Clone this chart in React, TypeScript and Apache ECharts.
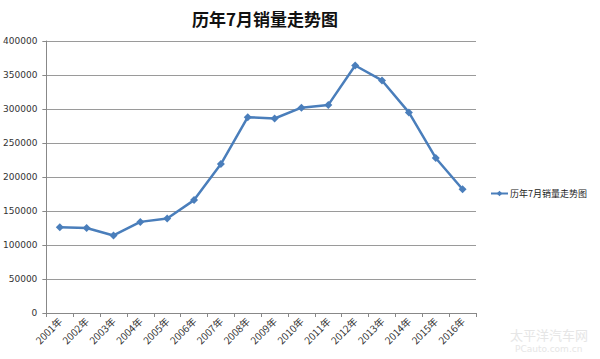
import React, { useEffect, useRef } from "react";
import * as echarts from "echarts";

const years = ["2001年","2002年","2003年","2004年","2005年","2006年","2007年","2008年","2009年","2010年","2011年","2012年","2013年","2014年","2015年","2016年"];
const sales = [126000,125000,114000,134000,139000,166000,219000,288000,286000,302000,306000,364000,342000,295000,228000,182000];
const seriesName = "历年7月销量走势图";
const titleText = "历年7月销量走势图";

export default function App() {
  const ref = useRef<HTMLDivElement>(null);
  useEffect(() => {
    document.body.style.margin = "0";
    const chart = echarts.init(ref.current!, null, { renderer: "svg" });
    chart.setOption({
      animation: false,
      backgroundColor: "#ffffff",
      title: {
        text: titleText,
        left: 260,
        textAlign: "center",
        top: 5,
        textStyle: { fontFamily: "Noto Sans CJK SC", fontSize: 17, fontWeight: "bold", color: "#111" },
      },
      legend: {
        left: 490,
        top: 189,
        itemWidth: 17,
        itemHeight: 7,
        itemGap: 4,
        padding: 0,
        data: [seriesName],
        textStyle: { fontFamily: "Noto Sans CJK SC", fontSize: 9, color: "#222", padding: [0, 0, 0, -3] },
      },
      grid: { left: 46, right: 124, top: 41, bottom: 46, containLabel: false },
      xAxis: {
        type: "category",
        data: years,
        boundaryGap: true,
        axisLine: { lineStyle: { color: "#888", width: 1 } },
        axisTick: { show: true, length: 4, lineStyle: { color: "#888" } },
        axisLabel: { rotate: 45, fontSize: 10, color: "#333", margin: 6, fontFamily: "Noto Sans CJK SC", interval: 0 },
      },
      yAxis: {
        type: "value",
        min: 0,
        max: 400000,
        interval: 50000,
        axisLine: { show: true, lineStyle: { color: "#888", width: 1 } },
        axisTick: { show: true, length: 4, lineStyle: { color: "#888" } },
        axisLabel: { fontSize: 9, color: "#333", margin: 9, fontFamily: "DejaVu Sans", formatter: (v: number) => String(v) },
        splitLine: { lineStyle: { color: "#9a9a9a", width: 1 } },
      },
      series: [
        {
          name: seriesName,
          type: "line",
          data: sales,
          symbol: "diamond",
          symbolSize: 8,
          itemStyle: { color: "#4a7ebb" },
          lineStyle: { color: "#4a7ebb", width: 2.5 },
        },
      ],
      graphic: [
        {
          type: "text",
          left: 510,
          top: 328,
          style: { text: "太平洋汽车网", fontSize: 13, fill: "#e6e6e6", fontFamily: "Noto Sans CJK SC" },
        },
        {
          type: "text",
          left: 515,
          top: 344,
          style: { text: "PCauto.com.cn", fontSize: 9, fill: "#e6e6e6", fontFamily: "DejaVu Sans" },
        },
      ],
    });
    return () => chart.dispose();
  }, []);
  return <div ref={ref} style={{ width: 600, height: 359 }} />;
}
